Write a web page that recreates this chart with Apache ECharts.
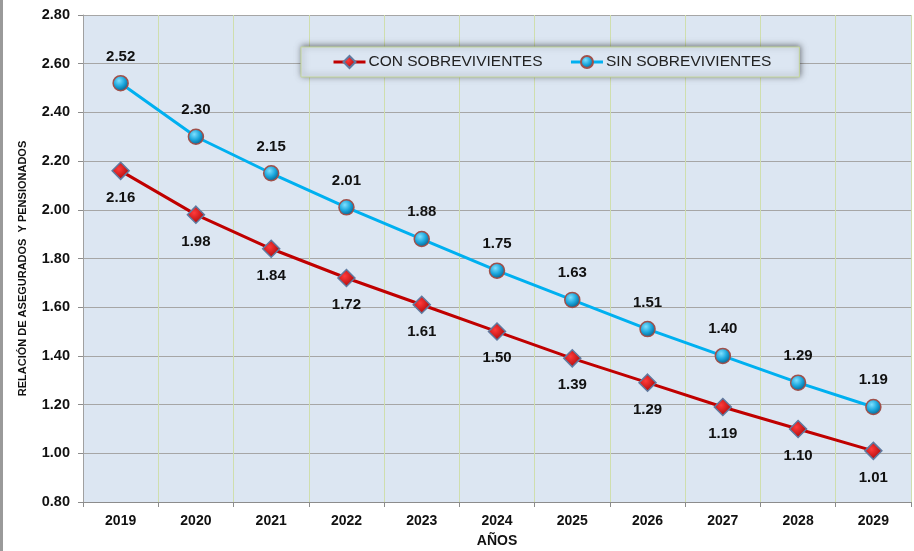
<!DOCTYPE html>
<html>
<head>
<meta charset="utf-8">
<script src="https://cdn.jsdelivr.net/npm/echarts@6/dist/echarts.min.js"></script>
<style>
  html, body { margin: 0; padding: 0; background: #fff; }
  #chart { width: 914px; height: 551px; }
</style>
</head>
<body>
<div id="chart"></div>
<script>
const years = ['2019', '2020', '2021', '2022', '2023', '2024', '2025', '2026', '2027', '2028', '2029'];
const conSobrevivientes = [2.16, 1.98, 1.84, 1.72, 1.61, 1.50, 1.39, 1.29, 1.19, 1.10, 1.01];
const sinSobrevivientes = [2.52, 2.30, 2.15, 2.01, 1.88, 1.75, 1.63, 1.51, 1.40, 1.29, 1.19];

const myChart = echarts.init(document.getElementById('chart'));
const font = 'Liberation Sans, Arial, sans-serif';

// red diamond and blue "sphere" markers, like the spreadsheet styles
const redFill = new echarts.graphic.RadialGradient(0.4, 0.4, 0.7, [
    { offset: 0, color: '#ff3b3b' },
    { offset: 1, color: '#a00000' }
]);
const blueFill = new echarts.graphic.RadialGradient(0.4, 0.35, 0.7, [
    { offset: 0, color: '#7fe0ff' },
    { offset: 0.5, color: '#1aa6dc' },
    { offset: 1, color: '#04557f' }
]);

const option = {
    animation: false,
    textStyle: { fontFamily: font },
    graphic: [{
        type: 'rect',
        left: 0, top: 0,
        shape: { width: 3, height: 551 },
        style: { fill: '#9a9a9a' }
    }],
    legend: {
        left: 301,
        top: 47,
        itemWidth: 32,
        itemHeight: 15,
        itemGap: 27,
        padding: [7, 28, 7, 31],
        backgroundColor: '#dce6f2',
        borderColor: '#c3d69b',
        borderWidth: 1,
        shadowColor: 'rgba(0,0,0,0.5)',
        shadowBlur: 6,
        shadowOffsetX: 1,
        shadowOffsetY: -1,
        lineStyle: { width: 3 },
        textStyle: { fontSize: 15.5, color: '#222', fontFamily: font, padding: [0, 0, 0, -2] },
        data: ['CON SOBREVIVIENTES', 'SIN SOBREVIVIENTES']
    },
    grid: {
        left: 83,
        right: 3,
        top: 15,
        bottom: 49,
        outerBoundsMode: 'none',
        containLabel: false,
        show: true,
        backgroundColor: '#dce6f2',
        borderWidth: 0
    },
    xAxis: {
        type: 'category',
        data: years,
        boundaryGap: true,
        name: 'AÑOS',
        nameLocation: 'middle',
        nameGap: 32,
        nameTextStyle: { fontSize: 14, fontWeight: 'bold', color: '#111' },
        axisLine: { lineStyle: { color: '#8c8c8c', width: 1 } },
        axisTick: { show: true, length: 5, lineStyle: { color: '#8c8c8c' } },
        axisLabel: { fontSize: 14, fontWeight: 'bold', color: '#111', margin: 12 },
        splitLine: { show: true, lineStyle: { color: '#cfdeae', width: 1 } }
    },
    yAxis: {
        type: 'value',
        min: 0.8,
        max: 2.8,
        interval: 0.2,
        name: 'RELACIÓN DE ASEGURADOS  Y PENSIONADOS',
        nameLocation: 'middle',
        nameRotate: 90,
        nameGap: 55,
        nameTextStyle: { fontSize: 11, fontWeight: 'bold', color: '#111', padding: [0, 20, 0, 0] },
        axisLine: { show: true, lineStyle: { color: '#a0a0a0' } },
        axisTick: { show: true, length: 5, lineStyle: { color: '#8c8c8c' } },
        axisLabel: {
            fontSize: 14.5, fontWeight: 'bold', color: '#111', margin: 13,
            formatter: v => v.toFixed(2)
        },
        splitLine: { show: true, lineStyle: { color: '#a6a6a6', width: 1 } }
    },
    series: [
        {
            name: 'CON SOBREVIVIENTES',
            type: 'line',
            data: conSobrevivientes,
            symbol: 'diamond',
            symbolSize: 17,
            lineStyle: { color: '#c00000', width: 3 },
            itemStyle: { color: redFill, borderColor: '#5f7aa0', borderWidth: 1.5 },
            label: {
                show: true,
                position: 'bottom',
                distance: 10,
                fontSize: 15,
                fontWeight: 'bold',
                color: '#111',
                formatter: p => p.value.toFixed(2)
            },
            z: 3
        },
        {
            name: 'SIN SOBREVIVIENTES',
            type: 'line',
            data: sinSobrevivientes,
            symbol: 'circle',
            symbolSize: 15,
            lineStyle: { color: '#00b0f0', width: 3 },
            itemStyle: { color: blueFill, borderColor: '#a0504a', borderWidth: 1.5 },
            label: {
                show: true,
                position: 'top',
                distance: 11,
                fontSize: 15,
                fontWeight: 'bold',
                color: '#111',
                formatter: p => p.value.toFixed(2)
            },
            z: 3
        }
    ]
};

myChart.setOption(option);
</script>
</body>
</html>
